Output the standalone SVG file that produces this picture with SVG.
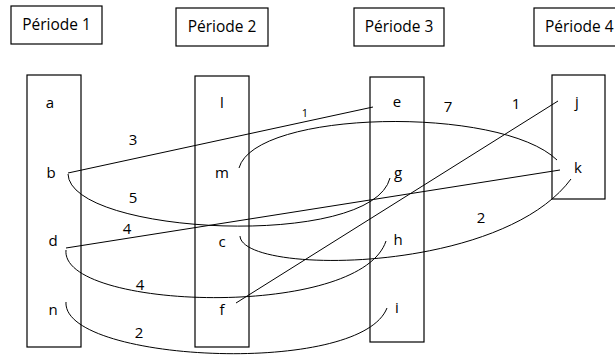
<svg xmlns="http://www.w3.org/2000/svg" width="615" height="356" viewBox="0 0 615 356">
<style>
.box{fill:#fff;stroke:#000;stroke-width:1.2}
.col{fill:none;stroke:#000;stroke-width:1.2}
.t{font-family:"Open Sans","Liberation Sans",sans-serif;font-size:15px;fill:#000}
.h{font-family:"Open Sans","Liberation Sans",sans-serif;font-size:15.5px;fill:#000}
.s{font-family:"Open Sans","Liberation Sans",sans-serif;font-size:11px;fill:#000}
.c{fill:none;stroke:#000;stroke-width:1}
</style>
<rect width="615" height="356" fill="#fff"/>
<g id="periode1"><rect class="box" x="11" y="6" width="91" height="38"/><text class="h" x="56.5" y="30" text-anchor="middle">Période 1</text></g>
<g id="periode2"><rect class="box" x="176" y="8" width="92" height="38"/><text class="h" x="222" y="32" text-anchor="middle">Période 2</text></g>
<g id="periode3"><rect class="box" x="354" y="8" width="90" height="38"/><text class="h" x="399" y="32" text-anchor="middle">Période 3</text></g>
<g id="periode4"><rect class="box" x="534" y="8" width="90" height="38"/><text class="h" x="545" y="32">Période 4</text></g>
<g id="col1"><rect class="col" x="27" y="75" width="54" height="272"/>
<text class="t" x="50" y="108" text-anchor="middle">a</text>
<text class="t" x="51" y="178" text-anchor="middle">b</text>
<text class="t" x="53" y="246" text-anchor="middle">d</text>
<text class="t" x="53" y="315" text-anchor="middle">n</text></g>
<g id="col2"><rect class="col" x="195" y="76" width="54" height="271"/>
<text class="t" x="222" y="108" text-anchor="middle">l</text>
<text class="t" x="222" y="178" text-anchor="middle">m</text>
<text class="t" x="222" y="247" text-anchor="middle">c</text>
<text class="t" x="222" y="315" text-anchor="middle">f</text></g>
<g id="col3"><rect class="col" x="370" y="77" width="54" height="265"/>
<text class="t" x="397" y="107" text-anchor="middle">e</text>
<text class="t" x="398" y="178" text-anchor="middle">g</text>
<text class="t" x="398" y="245" text-anchor="middle">h</text>
<text class="t" x="397" y="313" text-anchor="middle">i</text></g>
<g id="col4"><rect class="col" x="552" y="75" width="53" height="124"/>
<text class="t" x="577" y="107" text-anchor="middle">j</text>
<text class="t" x="578" y="173" text-anchor="middle">k</text></g>
<g id="connectors">
<line class="c" x1="68" y1="173" x2="373" y2="107"/>
<path class="c" d="M68,174 C70,235 372,250 390,178"/>
<path class="c" d="M239,168 C255,110 500,105 557,160"/>
<line class="c" x1="66" y1="248" x2="560" y2="170"/>
<line class="c" x1="236" y1="303" x2="558" y2="101"/>
<path class="c" d="M240,236 C242,275 500,275 571,179"/>
<path class="c" d="M66,250 C60,310 360,320 386,241"/>
<path class="c" d="M66,302 C62,362 360,377 387,308"/>
</g>
<g id="labels">
<text class="t" x="133" y="145" text-anchor="middle">3</text>
<text class="s" x="305" y="117" text-anchor="middle">1</text>
<text class="t" x="133" y="203" text-anchor="middle">5</text>
<text class="t" x="448" y="112" text-anchor="middle">7</text>
<text class="t" x="516" y="109" text-anchor="middle">1</text>
<text class="t" x="127" y="234" text-anchor="middle">4</text>
<text class="t" x="481" y="223" text-anchor="middle">2</text>
<text class="t" x="140" y="290" text-anchor="middle">4</text>
<text class="t" x="139" y="338" text-anchor="middle">2</text>
</g>
</svg>
